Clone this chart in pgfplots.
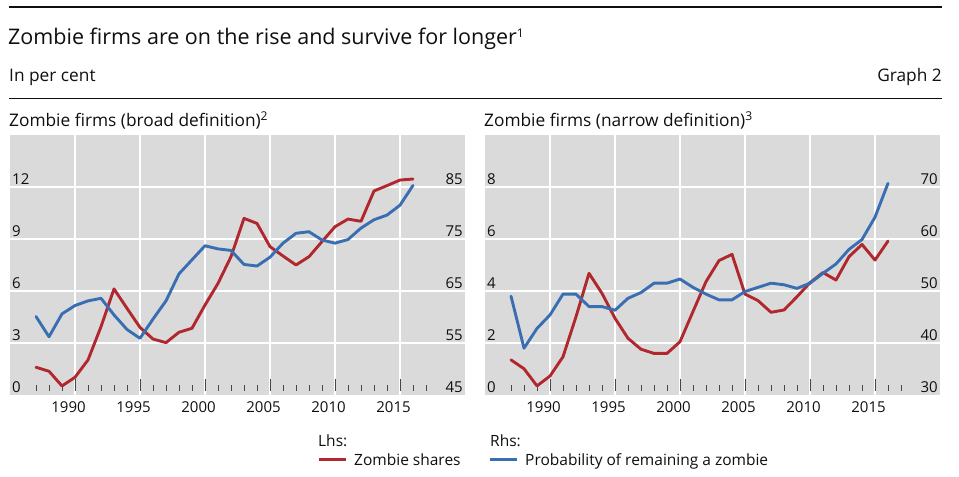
\documentclass[border=0pt]{standalone}
\usepackage{fontspec}
\setmainfont{Open Sans}
\usepackage{pgfplots}
\pgfplotsset{compat=1.18}
\definecolor{bggray}{RGB}{218,218,218}
\definecolor{zred}{RGB}{176,40,46}
\definecolor{zblue}{RGB}{58,110,178}
\definecolor{tickgray}{RGB}{70,70,70}
\definecolor{txt}{RGB}{15,15,15}
\newcommand\ticksize{\fontsize{15bp}{18bp}\selectfont}
\pgfplotsset{
  zbase/.style={scale only axis, width=455bp, height=260bp, xmin=1985, xmax=2020,
    axis line style={draw=none},
    /pgf/number format/assume math mode=true,
    /pgf/number format/1000 sep={},
    tick label style={font=\ticksize, text=txt}},
  zleft/.style={zbase,
    axis background/.style={fill=bggray},
    xtick={1990,1995,...,2015}, minor xtick={1987,...,2017},
    xtick pos=left, xtick align=inside,
    major tick length=12bp, minor tick length=6bp,
    xtick style={draw=tickgray, line width=0.9bp, yshift=4bp},
    xticklabel style={xshift=-6.5bp, yshift=-3bp},
    xmajorgrids, ymajorgrids, grid style={white, line width=1.4bp},
    extra y tick style={grid=none},
    ytick style={draw=none}, ytick pos=left,
    yticklabel style={anchor=south west, inner sep=2bp}},
  zright/.style={zbase, axis x line=none, axis y line*=right,
    ytick style={draw=none},
    yticklabel style={anchor=south east, inner sep=2bp}},
  zline/.style={line width=2.9bp, line join=round, line cap=round, mark=none}
}
\begin{document}
\begin{tikzpicture}
\useasboundingbox (0,0) rectangle (959bp,477bp);
% header
\draw[txt, line width=1.8bp] (9bp,469.7bp) -- (942bp,469.7bp);
\node[anchor=base west, inner sep=0, text=txt, font=\fontsize{21.5bp}{26bp}\selectfont] at (8bp,432bp) {Zombie firms are on the rise and survive for longer\textsuperscript{\fontsize{12bp}{14bp}\selectfont 1}};
\node[anchor=base west, inner sep=0, text=txt, font=\fontsize{17.3bp}{21bp}\selectfont] at (9bp,395.3bp) {In per cent};
\node[anchor=base east, inner sep=0, text=txt, font=\fontsize{17.3bp}{21bp}\selectfont] at (942bp,395.3bp) {Graph 2};
\draw[txt, line width=1.5bp] (9bp,378.7bp) -- (942bp,378.7bp);
\node[anchor=base west, inner sep=0, text=txt, font=\fontsize{17.3bp}{21bp}\selectfont] at (9bp,350.3bp) {Zombie firms (broad definition)\textsuperscript{2}};
\node[anchor=base west, inner sep=0, text=txt, font=\fontsize{17.3bp}{21bp}\selectfont] at (484bp,350.3bp) {Zombie firms (narrow definition)\textsuperscript{3}};

% left panel, lhs
\begin{axis}[zleft, at={(10bp,82bp)}, anchor=south west, ymin=0, ymax=15,
  ytick={3,6,9,12}, extra y ticks={0}]
\addplot[zline, zred] coordinates {
(1987,1.60) (1988,1.37) (1989,0.52) (1990,1.02) (1991,2.02) (1992,3.94)
(1993,6.12) (1994,5.00) (1995,3.90) (1996,3.23) (1997,3.02) (1998,3.62)
(1999,3.85) (2000,5.19) (2001,6.44) (2002,7.98) (2003,10.19) (2004,9.90)
(2005,8.56) (2006,8.02) (2007,7.50) (2008,7.98) (2009,8.85) (2010,9.71)
(2011,10.15) (2012,10.02) (2013,11.77) (2014,12.08) (2015,12.40) (2016,12.46)};
\end{axis}
% left panel, rhs
\begin{axis}[zright, at={(10bp,82bp)}, anchor=south west, ymin=45, ymax=95,
  ytick={45,55,65,75,85}]
\addplot[zline, zblue] coordinates {
(1987,60.1) (1988,56.2) (1989,60.6) (1990,62.2) (1991,63.1) (1992,63.6)
(1993,60.4) (1994,57.6) (1995,55.9) (1996,59.6) (1997,63.1) (1998,68.3)
(1999,71.0) (2000,73.7) (2001,73.1) (2002,72.8) (2003,70.1) (2004,69.8)
(2005,71.5) (2006,74.2) (2007,76.1) (2008,76.4) (2009,74.8) (2010,74.2)
(2011,74.9) (2012,77.1) (2013,78.7) (2014,79.6) (2015,81.5) (2016,85.3)};
\end{axis}

% right panel, lhs
\begin{axis}[zleft, at={(485bp,82bp)}, anchor=south west, ymin=0, ymax=10,
  ytick={2,4,6,8}, extra y ticks={0}]
\addplot[zline, zred] coordinates {
(1987,1.35) (1988,1.01) (1989,0.35) (1990,0.73) (1991,1.47) (1992,3.01)
(1993,4.68) (1994,3.91) (1995,2.95) (1996,2.18) (1997,1.76) (1998,1.60)
(1999,1.60) (2000,2.05) (2001,3.21) (2002,4.36) (2003,5.17) (2004,5.41)
(2005,3.88) (2006,3.63) (2007,3.18) (2008,3.27) (2009,3.78) (2010,4.32)
(2011,4.71) (2012,4.42) (2013,5.32) (2014,5.79) (2015,5.19) (2016,5.92)};
\end{axis}
% right panel, rhs
\begin{axis}[zright, at={(485bp,82bp)}, anchor=south west, ymin=30, ymax=80,
  ytick={30,40,50,60,70}]
\addplot[zline, zblue] coordinates {
(1987,49.0) (1988,39.0) (1989,42.8) (1990,45.4) (1991,49.4) (1992,49.4)
(1993,47.0) (1994,47.0) (1995,46.3) (1996,48.6) (1997,49.7) (1998,51.5)
(1999,51.5) (2000,52.3) (2001,50.7) (2002,49.4) (2003,48.3) (2004,48.3)
(2005,49.9) (2006,50.7) (2007,51.5) (2008,51.2) (2009,50.5) (2010,51.5)
(2011,53.4) (2012,55.2) (2013,58.0) (2014,59.9) (2015,64.2) (2016,70.7)};
\end{axis}

% legend
\node[anchor=base west, inner sep=0, text=txt, font=\fontsize{15.5bp}{19bp}\selectfont] at (318bp,30.3bp) {Lhs:};
\draw[zred, line width=2.9bp] (319bp,17.7bp) -- (345.7bp,17.7bp);
\node[anchor=base west, inner sep=0, text=txt, font=\fontsize{15.5bp}{19bp}\selectfont] at (354bp,12bp) {Zombie shares};
\node[anchor=base west, inner sep=0, text=txt, font=\fontsize{15.5bp}{19bp}\selectfont] at (490bp,30.3bp) {Rhs:};
\draw[zblue, line width=2.9bp] (490bp,17.7bp) -- (516.7bp,17.7bp);
\node[anchor=base west, inner sep=0, text=txt, font=\fontsize{15.5bp}{19bp}\selectfont] at (525bp,12bp) {Probability of remaining a zombie};
\end{tikzpicture}
\end{document}
